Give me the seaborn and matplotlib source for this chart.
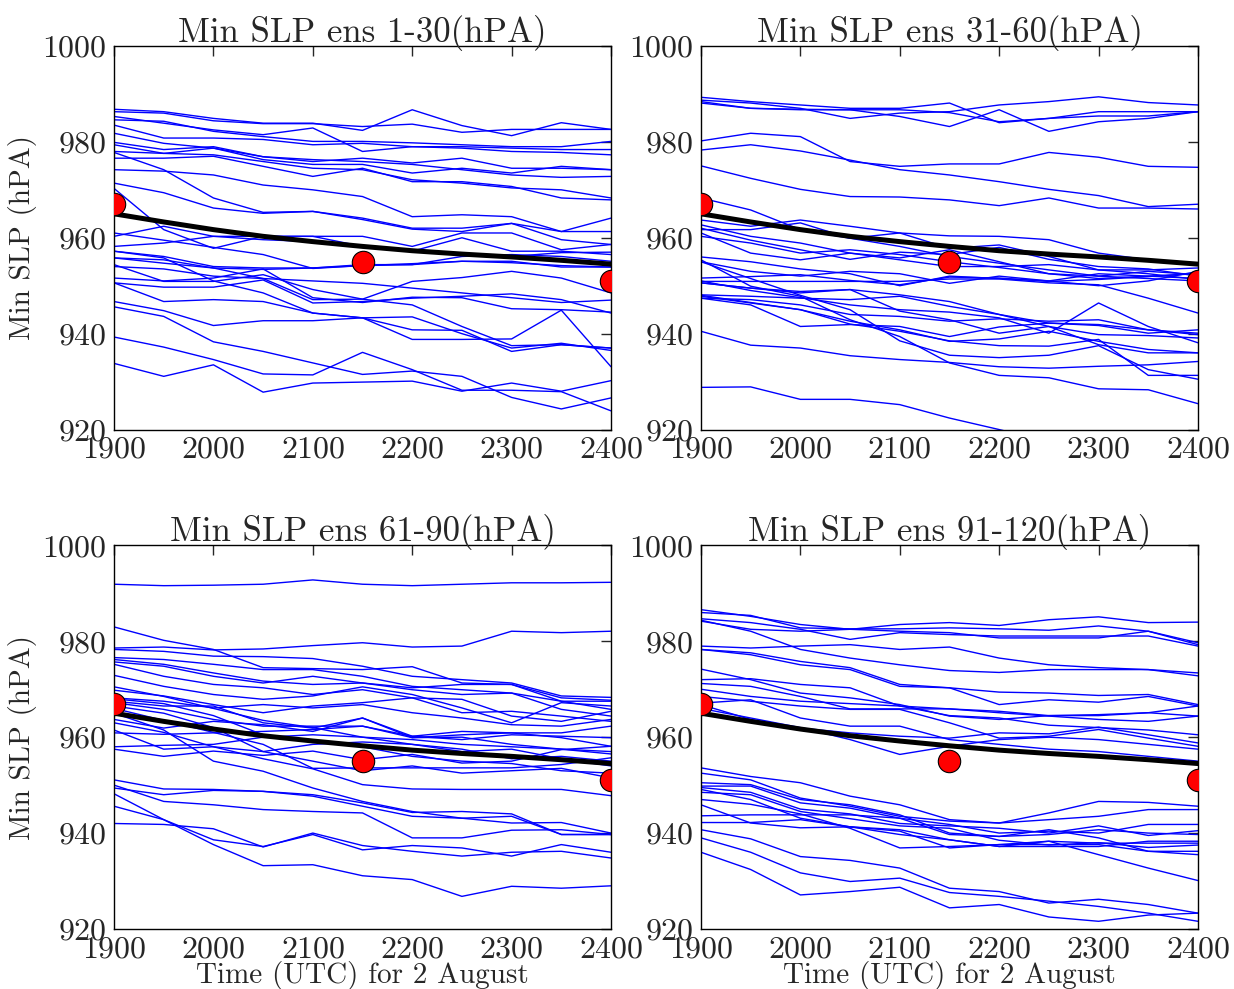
import numpy as np
import pandas as pd
import matplotlib
matplotlib.use("Agg")
import matplotlib.pyplot as plt
import seaborn as sns

times = [1900, 1950, 2000, 2050, 2100, 2150, 2200, 2250, 2300, 2350, 2400]

ens_01_30 = [
    [986.8, 986.3, 984.9, 983.9, 983.9, 982.4, 986.7, 983.4, 981.3, 984.0, 982.6],
    [986.3, 986.0, 984.4, 983.8, 983.8, 983.2, 983.7, 982.0, 982.6, 982.6, 982.6],
    [985.3, 983.9, 982.5, 981.5, 982.9, 978.0, 979.0, 979.0, 978.7, 978.4, 978.4],
    [984.6, 984.3, 982.2, 981.1, 980.1, 980.1, 979.8, 979.4, 979.0, 979.0, 980.1],
    [983.5, 980.8, 980.8, 980.5, 979.4, 979.7, 979.0, 978.7, 978.0, 977.8, 977.3],
    [981.8, 979.7, 978.7, 976.9, 975.9, 976.6, 975.6, 976.6, 974.5, 974.5, 974.2],
    [979.9, 978.4, 979.0, 976.9, 976.3, 975.9, 975.3, 974.2, 973.1, 972.6, 972.8],
    [979.4, 977.6, 977.3, 975.9, 974.5, 974.2, 972.1, 971.4, 970.4, 970.0, 968.3],
    [978.0, 977.6, 978.7, 976.3, 975.3, 975.3, 973.5, 974.5, 973.5, 974.9, 974.2],
    [976.6, 976.6, 977.0, 974.9, 972.8, 974.5, 971.7, 971.7, 970.7, 968.3, 967.9],
    [977.8, 974.2, 968.3, 965.3, 965.5, 963.8, 961.8, 961.3, 963.0, 959.6, 958.6],
    [974.2, 973.9, 973.1, 971.0, 970.0, 968.6, 964.4, 964.8, 964.4, 961.3, 961.3],
    [971.4, 969.4, 966.2, 965.1, 965.5, 964.1, 962.0, 962.0, 963.0, 961.3, 964.1],
    [970.3, 961.7, 957.8, 960.3, 960.3, 958.2, 957.2, 960.0, 957.2, 957.2, 956.5],
    [960.3, 962.4, 960.3, 960.3, 960.3, 960.3, 958.2, 961.0, 961.0, 957.5, 958.6],
    [958.2, 958.9, 960.3, 959.6, 959.2, 958.2, 957.5, 956.5, 956.1, 956.9, 957.0],
    [957.2, 956.1, 954.0, 953.7, 953.7, 954.4, 954.4, 956.1, 956.5, 956.1, 955.1],
    [955.8, 955.4, 953.7, 953.4, 953.7, 954.2, 954.6, 955.1, 954.8, 954.2, 953.9],
    [957.2, 955.8, 951.0, 948.5, 944.3, 943.3, 943.5, 940.0, 937.0, 938.0, 936.5],
    [955.8, 954.7, 953.7, 951.5, 947.1, 947.2, 946.0, 941.5, 937.5, 937.7, 937.0],
    [954.4, 950.9, 950.9, 952.3, 949.2, 947.2, 950.9, 951.7, 953.0, 951.6, 948.5],
    [951.6, 951.0, 951.6, 953.5, 947.5, 946.5, 947.6, 947.5, 945.2, 945.0, 944.5],
    [950.6, 949.7, 949.7, 951.2, 946.4, 946.7, 947.4, 947.8, 948.3, 947.1, 944.3],
    [950.6, 946.7, 947.1, 946.7, 944.3, 943.3, 938.8, 938.8, 938.9, 944.9, 933.1],
    [946.7, 944.8, 941.7, 942.7, 942.7, 943.3, 940.8, 940.7, 936.3, 937.7, 937.0],
    [945.6, 943.6, 938.3, 936.3, 933.9, 931.5, 932.2, 931.1, 926.7, 924.3, 926.6],
    [939.3, 937.2, 934.6, 931.6, 931.4, 936.1, 932.5, 928.2, 928.2, 927.9, 923.9],
    [933.8, 931.1, 933.5, 927.8, 929.7, 929.9, 930.1, 928.0, 929.7, 928.0, 930.2],
    [961.0, 959.5, 958.0, 956.5, 953.6, 954.2, 954.4, 955.1, 955.1, 953.9, 953.9],
    [954.0, 953.5, 952.0, 951.5, 951.0, 950.5, 949.5, 948.5, 947.5, 946.5, 947.0],
]

ens_31_60 = [
    [989.3, 988.4, 987.7, 987.0, 987.0, 988.1, 984.0, 984.9, 985.4, 985.4, 986.3],
    [988.7, 988.1, 987.0, 984.9, 986.0, 986.3, 987.7, 988.4, 989.4, 988.2, 987.7],
    [988.4, 987.0, 986.8, 986.7, 985.3, 983.2, 986.7, 982.2, 984.2, 984.9, 986.3],
    [988.1, 987.0, 986.7, 986.7, 986.7, 986.1, 984.2, 984.9, 986.3, 986.3, 986.3],
    [980.2, 981.8, 981.1, 975.9, 974.9, 975.4, 975.4, 977.8, 976.8, 974.9, 974.7],
    [978.3, 979.4, 978.1, 976.2, 974.2, 973.1, 971.7, 970.1, 968.8, 966.5, 967.0],
    [975.0, 972.4, 970.1, 968.6, 968.5, 967.9, 966.7, 968.3, 966.2, 966.2, 966.0],
    [968.3, 965.8, 961.7, 959.9, 958.2, 956.1, 954.7, 953.3, 952.0, 951.5, 951.0],
    [963.7, 962.4, 963.7, 962.4, 961.0, 960.4, 960.3, 959.6, 956.8, 955.4, 954.7],
    [962.7, 960.3, 958.9, 956.8, 955.4, 954.0, 954.0, 954.4, 953.3, 953.3, 953.7],
    [961.7, 961.7, 963.1, 959.9, 961.0, 957.8, 958.5, 956.1, 953.3, 952.5, 951.3],
    [961.0, 956.8, 955.4, 956.8, 955.8, 957.5, 955.0, 952.5, 951.5, 952.0, 952.5],
    [960.3, 958.9, 956.8, 957.5, 956.5, 955.0, 953.8, 952.5, 952.0, 953.0, 952.3],
    [962.0, 959.5, 957.5, 955.5, 957.0, 956.5, 958.0, 955.5, 954.0, 953.5, 952.0],
    [928.8, 928.9, 926.3, 926.3, 925.2, 922.4, 920.0, 917.5, 916.0, 915.0, 914.0],
    [940.5, 937.6, 937.0, 935.4, 934.6, 934.0, 933.1, 932.8, 933.2, 933.5, 934.2],
    [955.4, 949.9, 947.8, 942.9, 939.4, 933.9, 931.3, 930.8, 928.5, 928.3, 925.4],
    [955.0, 951.5, 948.0, 945.0, 938.5, 935.5, 935.0, 935.5, 937.5, 932.5, 930.5],
    [951.0, 949.0, 947.5, 946.0, 945.0, 944.5, 943.3, 940.1, 946.4, 941.5, 938.1],
    [948.0, 946.5, 945.0, 942.0, 940.5, 938.5, 937.5, 937.4, 938.8, 931.3, 931.3],
    [951.6, 951.9, 952.3, 951.1, 950.2, 951.8, 951.6, 950.9, 951.3, 951.9, 952.6],
    [950.9, 950.9, 950.9, 950.9, 950.9, 951.4, 951.4, 950.6, 950.2, 947.4, 944.3],
    [950.6, 949.5, 948.8, 949.2, 948.1, 946.7, 944.0, 942.2, 941.9, 940.8, 939.8],
    [948.1, 947.8, 947.4, 947.1, 947.8, 945.7, 944.0, 941.5, 939.8, 939.6, 939.1],
    [947.8, 946.4, 945.0, 942.6, 940.8, 938.4, 938.9, 940.5, 938.4, 936.7, 936.0],
    [947.4, 946.0, 941.5, 941.9, 941.5, 939.4, 941.4, 942.2, 941.7, 940.1, 940.8],
    [947.4, 947.1, 946.0, 944.0, 943.6, 942.6, 943.1, 942.6, 942.9, 940.8, 940.1],
    [950.6, 949.5, 948.5, 949.2, 944.7, 942.9, 940.1, 941.5, 937.7, 936.0, 936.0],
    [956.0, 955.0, 953.5, 952.5, 950.0, 952.0, 951.5, 951.0, 952.5, 952.0, 951.5],
    [955.0, 953.0, 952.0, 953.0, 952.5, 950.5, 952.0, 951.0, 950.0, 951.0, 953.0],
]

ens_61_90 = [
    [991.9, 991.6, 991.7, 991.9, 992.8, 991.9, 991.6, 991.9, 992.2, 992.2, 992.3],
    [978.6, 978.8, 978.2, 978.4, 979.1, 979.7, 978.8, 979.0, 982.1, 981.8, 982.1],
    [983.0, 980.2, 978.3, 974.5, 974.3, 974.1, 974.7, 971.3, 971.0, 968.2, 967.7],
    [978.3, 977.9, 976.9, 976.8, 976.4, 974.8, 972.7, 972.0, 971.3, 968.6, 968.3],
    [976.6, 976.2, 975.2, 974.1, 974.1, 972.7, 970.6, 969.9, 969.2, 967.5, 967.5],
    [976.2, 975.2, 973.4, 971.7, 971.0, 971.3, 970.3, 971.0, 971.0, 967.5, 965.8],
    [975.7, 974.8, 972.7, 971.3, 972.7, 971.3, 969.9, 968.9, 969.2, 965.8, 964.4],
    [975.2, 972.7, 971.0, 970.3, 968.9, 969.9, 968.2, 965.1, 965.4, 964.4, 963.3],
    [972.9, 970.6, 968.9, 967.9, 968.6, 970.5, 968.9, 966.1, 963.0, 967.2, 966.5],
    [969.8, 968.6, 966.8, 965.1, 966.5, 967.2, 968.2, 967.9, 964.4, 963.3, 965.4],
    [968.2, 967.5, 966.1, 966.8, 966.1, 966.8, 965.1, 964.0, 962.6, 962.3, 963.7],
    [967.5, 966.5, 966.5, 963.0, 961.9, 964.0, 960.2, 961.2, 960.9, 960.9, 962.3],
    [967.2, 965.8, 963.7, 962.3, 962.3, 962.3, 960.2, 959.5, 960.5, 960.2, 959.9],
    [963.7, 961.9, 963.3, 962.6, 961.2, 964.0, 959.9, 960.5, 960.9, 959.9, 958.1],
    [960.9, 960.6, 960.9, 961.2, 961.6, 962.3, 959.9, 960.0, 958.5, 957.5, 957.0],
    [958.0, 958.3, 958.5, 960.0, 960.5, 960.0, 959.5, 958.5, 958.0, 957.5, 956.5],
    [957.5, 956.0, 957.1, 956.2, 957.1, 955.3, 956.4, 954.6, 955.0, 957.4, 958.1],
    [965.0, 961.5, 955.0, 952.9, 949.4, 946.6, 944.5, 943.1, 943.5, 939.7, 939.7],
    [951.1, 949.2, 949.1, 948.7, 947.7, 945.6, 943.5, 943.1, 942.1, 942.2, 940.0],
    [949.4, 948.0, 948.9, 948.7, 948.0, 946.3, 944.3, 944.5, 944.0, 939.7, 939.7],
    [948.2, 942.8, 937.6, 933.2, 933.4, 931.1, 930.3, 926.8, 928.9, 928.5, 929.0],
    [945.6, 942.8, 938.6, 937.2, 939.7, 936.5, 937.4, 936.9, 935.2, 937.6, 936.0],
    [942.0, 941.8, 940.9, 937.1, 940.0, 937.4, 936.2, 935.2, 936.0, 936.2, 934.8],
    [950.0, 946.6, 945.9, 944.9, 944.5, 944.2, 939.0, 939.0, 940.6, 940.7, 939.7],
    [963.0, 961.0, 958.0, 955.5, 953.4, 950.1, 949.2, 949.1, 949.1, 949.1, 947.8],
    [966.0, 963.5, 961.0, 958.5, 953.5, 953.6, 953.6, 953.6, 953.6, 954.3, 955.7],
    [966.5, 965.0, 962.0, 957.0, 955.0, 953.0, 954.0, 952.5, 953.0, 953.5, 951.5],
    [968.0, 967.0, 964.5, 960.5, 959.0, 958.0, 956.0, 955.0, 954.5, 953.0, 952.5],
    [961.5, 957.5, 958.0, 957.0, 958.5, 959.0, 958.5, 957.5, 955.5, 956.0, 955.0],
    [970.5, 968.5, 966.0, 963.5, 962.0, 960.0, 958.5, 957.0, 957.5, 955.5, 954.0],
]

ens_91_120 = [
    [986.6, 985.2, 983.5, 982.5, 983.5, 983.9, 983.3, 984.5, 985.1, 983.9, 984.0],
    [986.0, 985.4, 982.8, 982.6, 982.6, 982.8, 982.6, 982.3, 983.2, 982.1, 979.7],
    [984.7, 983.9, 982.5, 980.4, 981.8, 981.4, 981.1, 981.1, 981.1, 981.1, 979.0],
    [984.4, 982.1, 978.3, 976.5, 975.1, 973.9, 973.5, 974.1, 974.1, 974.1, 973.4],
    [984.2, 982.5, 982.1, 982.5, 982.1, 981.8, 980.7, 980.7, 980.7, 982.1, 979.3],
    [979.0, 978.6, 979.0, 979.3, 978.3, 978.8, 976.5, 975.1, 974.5, 974.1, 972.8],
    [978.3, 977.2, 975.1, 974.1, 970.6, 970.3, 969.4, 969.2, 968.7, 968.9, 966.8],
    [978.3, 977.6, 975.8, 974.5, 971.0, 970.3, 966.8, 967.8, 967.3, 968.5, 966.5],
    [974.2, 972.0, 969.2, 968.2, 966.8, 964.4, 963.7, 964.5, 964.5, 965.1, 964.4],
    [972.0, 972.2, 971.0, 970.3, 966.5, 965.9, 965.1, 964.4, 963.7, 963.3, 964.4],
    [971.2, 970.6, 968.5, 965.9, 965.9, 965.9, 965.4, 964.5, 964.7, 965.1, 966.5],
    [967.1, 967.8, 964.0, 962.3, 962.3, 959.5, 958.5, 957.5, 957.0, 956.0, 955.0],
    [966.8, 963.7, 961.9, 960.9, 960.2, 959.8, 960.9, 960.7, 962.1, 960.5, 958.8],
    [968.5, 967.5, 966.5, 965.8, 965.8, 963.0, 959.8, 960.2, 961.6, 959.8, 958.1],
    [966.0, 964.0, 962.0, 959.5, 956.4, 958.1, 959.5, 960.0, 959.5, 958.5, 957.5],
    [953.6, 951.8, 950.5, 947.7, 945.9, 942.8, 942.1, 944.2, 946.6, 946.4, 945.6],
    [952.5, 951.1, 947.3, 945.6, 943.5, 942.5, 942.1, 942.8, 943.5, 944.9, 944.9],
    [950.5, 950.1, 947.0, 945.9, 943.8, 940.0, 939.3, 940.7, 939.0, 936.2, 936.2],
    [949.8, 949.8, 946.3, 945.2, 943.1, 941.8, 940.0, 940.4, 940.0, 941.8, 941.8],
    [949.1, 947.0, 943.1, 941.3, 939.7, 938.6, 937.2, 937.2, 937.2, 938.3, 938.3],
    [945.9, 942.1, 941.1, 941.3, 940.7, 938.6, 937.2, 938.3, 937.9, 937.9, 937.9],
    [943.6, 943.8, 943.8, 943.8, 943.1, 939.7, 939.3, 939.7, 940.7, 940.0, 939.7],
    [942.2, 942.2, 942.8, 941.3, 940.4, 936.9, 937.6, 937.6, 937.6, 936.2, 935.5],
    [940.7, 938.8, 935.1, 934.3, 932.7, 928.5, 927.8, 925.4, 926.2, 925.1, 923.3],
    [939.0, 936.0, 931.7, 929.9, 930.6, 927.6, 926.8, 925.8, 924.7, 923.3, 921.6],
    [936.0, 932.4, 927.1, 927.8, 928.7, 924.4, 925.1, 922.5, 921.6, 922.9, 923.3],
    [947.0, 946.0, 944.0, 941.0, 936.9, 937.2, 937.6, 938.3, 935.5, 932.7, 930.1],
    [949.5, 948.5, 945.0, 944.0, 942.0, 941.5, 941.0, 940.0, 941.5, 939.5, 940.5],
    [948.5, 948.0, 944.5, 943.0, 941.5, 941.0, 938.5, 937.5, 938.0, 937.0, 937.5],
    [970.0, 968.5, 967.5, 967.0, 966.5, 964.5, 964.0, 962.5, 962.0, 961.5, 960.5],
]

reference_slp = [965.0, 963.3, 961.7, 960.3, 959.2, 958.2, 957.3, 956.6, 956.0, 955.3, 954.5]
obs_times = [1900, 2150, 2400]
obs_slp = [967.0, 955.0, 951.0]

titles = ["Min SLP ens 1-30(hPA)", "Min SLP ens 31-60(hPA)",
          "Min SLP ens 61-90(hPA)", "Min SLP ens 91-120(hPA)"]
ylabel = "Min SLP (hPA)"
xlabel = "Time (UTC) for 2 August"
xticks = [1900, 2000, 2100, 2200, 2300, 2400]
yticks = [920, 940, 960, 980, 1000]

sns.set_style("white")
plt.rcParams["font.family"] = ["cmr10", "DejaVu Serif"]
plt.rcParams["mathtext.fontset"] = "cm"
plt.rcParams["axes.unicode_minus"] = False
plt.rcParams["axes.formatter.use_mathtext"] = True

fig, axes = plt.subplots(2, 2, figsize=(12.34, 9.89), dpi=100)
fig.subplots_adjust(left=0.0924, right=0.9708, bottom=0.0607, top=0.9535,
                    wspace=0.181, hspace=0.302)

ref_df = pd.DataFrame({"time": times, "slp": reference_slp})
obs_df = pd.DataFrame({"time": obs_times, "slp": obs_slp})

for idx, (ax, members, title) in enumerate(zip(axes.flat,
                                              [ens_01_30, ens_31_60, ens_61_90, ens_91_120],
                                              titles)):
    rows = []
    for m, vals in enumerate(members):
        for t, v in zip(times, vals):
            rows.append((m, t, v))
    df = pd.DataFrame(rows, columns=["member", "time", "slp"])
    sns.lineplot(data=df, x="time", y="slp", units="member", estimator=None,
                 color="#0000ff", linewidth=1.0, ax=ax, legend=False)
    sns.lineplot(data=ref_df, x="time", y="slp", color="black", linewidth=3.6,
                 ax=ax, legend=False)
    sns.scatterplot(data=obs_df, x="time", y="slp", color="red", s=260,
                    edgecolor="black", linewidth=0.8, ax=ax, legend=False, zorder=5)
    ax.set_xlim(1900, 2400)
    ax.set_ylim(920, 1000)
    ax.set_xticks(xticks)
    ax.set_yticks(yticks)
    ax.tick_params(direction="in", top=True, right=True, length=7, width=1,
                   labelsize=23, pad=5)
    for sp in ax.spines.values():
        sp.set_color("black")
        sp.set_linewidth(1.0)
    ax.set_title(title, fontsize=25, pad=3)
    ax.set_xlabel(xlabel if idx >= 2 else "", fontsize=21, labelpad=-2)
    ax.set_ylabel(ylabel if idx % 2 == 0 else "", fontsize=21, labelpad=4)

fig.savefig("out.png", dpi=100, facecolor="white")
